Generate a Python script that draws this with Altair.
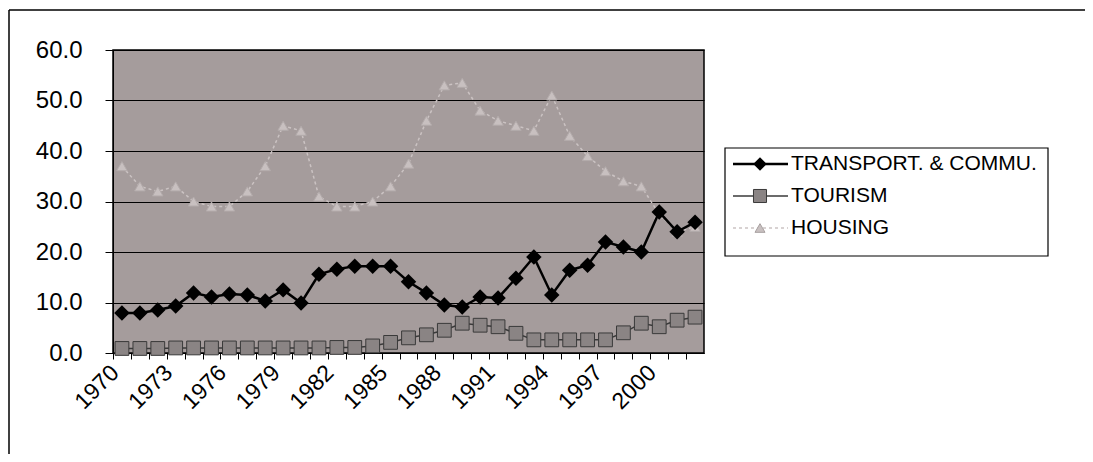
import altair as alt
import pandas as pd

years = list(range(1970, 2003))
transport = [7.9, 7.9, 8.5, 9.3, 11.9, 11.1, 11.7, 11.5, 10.3, 12.5, 9.9, 15.6, 16.6, 17.2, 17.2, 17.2,
             14.1, 11.9, 9.5, 9.1, 11.1, 10.9, 14.8, 19.0, 11.5, 16.4, 17.4, 22.0, 21.0, 20.0, 27.9, 24.0, 25.9]
tourism = [0.9, 0.9, 0.9, 1.0, 1.0, 1.0, 1.0, 1.0, 1.0, 1.0, 1.0, 1.0, 1.1, 1.1, 1.4, 2.1,
           3.0, 3.6, 4.5, 5.9, 5.5, 5.2, 3.9, 2.6, 2.6, 2.6, 2.6, 2.6, 4.0, 5.9, 5.2, 6.5, 7.1]
housing = [37, 33, 32, 33, 30, 29, 29, 32, 37, 45, 44, 31, 29, 29, 30, 33, 37.5, 46, 53, 53.5,
           48, 46, 45, 44, 51, 43, 39, 36, 34, 33, 27.5, 24, 25]
series_names = ["TRANSPORT. & COMMU.", "TOURISM", "HOUSING"]
y_ticks = [0, 10, 20, 30, 40, 50, 60]

W, H = 591, 303
STEP = W / len(years)
FONT = "Liberation Sans"

df = pd.DataFrame({"year": years, "transport": transport, "tourism": tourism, "housing": housing})

x_enc = alt.X("year:O", title=None,
              scale=alt.Scale(type="point", padding=0.5),
              axis=alt.Axis(labelAngle=-45, labelAlign="right", labelBaseline="top",
                            labelExpr="(datum.value - 1970) % 3 == 0 ? datum.label : ''",
                            tickOffset=-STEP / 2, labelOffset=STEP / 2 - 15,
                            tickSize=6, tickColor="black", domainColor="black",
                            labelFont=FONT, labelFontSize=23, labelColor="black",
                            labelPadding=2, grid=False))

y_axis = alt.Axis(values=y_ticks, format=".1f", title=None, tickSize=8, tickColor="black",
                  domainColor="black", labelFont=FONT, labelFontSize=24, labelColor="black",
                  labelPadding=23, grid=True, gridColor="black", gridWidth=1, gridOpacity=1)


def y_enc(field):
    return alt.Y(f"{field}:Q", title=None, scale=alt.Scale(domain=[0, 60], nice=False), axis=y_axis)


base = alt.Chart(df)

housing_line = base.mark_line(color="#cbc3c3", strokeWidth=1.5, strokeDash=[3, 3]).encode(
    x=x_enc, y=y_enc("housing"))
housing_pts = base.mark_point(shape="triangle-up", size=110, filled=True, fill="#c8c0c0",
                              stroke="#b3abab", strokeWidth=1, opacity=1).encode(
    x=x_enc, y=y_enc("housing"))

tourism_line = base.mark_line(color="#3a3a3a", strokeWidth=1.5).encode(x=x_enc, y=y_enc("tourism"))
tourism_pts = base.mark_point(shape="square", size=190, filled=True, fill="#8a8484",
                              stroke="#3a3a3a", strokeWidth=1, opacity=1).encode(
    x=x_enc, y=y_enc("tourism"))

transport_line = base.mark_line(color="black", strokeWidth=2.5).encode(x=x_enc, y=y_enc("transport"))
transport_pts = base.mark_point(shape="diamond", size=240, filled=True, color="black", opacity=1).encode(
    x=x_enc, y=y_enc("transport"))

one = alt.Chart(pd.DataFrame({"a": [0]}))

# outer chart frame (top and left)
frame_top = one.mark_rule(color="black", strokeWidth=1.5).encode(
    x=alt.value(-104), x2=alt.value(1000), y=alt.value(-40))
frame_left = one.mark_rule(color="black", strokeWidth=1.5).encode(
    x=alt.value(-104), y=alt.value(-40), y2=alt.value(410))

# legend
LX0, LX1, LY0, LY1 = 612, 935, 98, 206
legend_box = one.mark_rect(fill="white", stroke="black", strokeWidth=1.2).encode(
    x=alt.value(LX0), x2=alt.value(LX1), y=alt.value(LY0), y2=alt.value(LY1))
rows = [114, 146, 178]
legend_layers = [legend_box]
leg_line = [("black", 2.5, None), ("#3a3a3a", 1.5, None), ("#cbc3c3", 1.5, [3, 3])]
for i, name in enumerate(series_names):
    color, sw, dash = leg_line[i]
    kw = {"color": color, "strokeWidth": sw}
    if dash:
        kw["strokeDash"] = dash
    legend_layers.append(one.mark_rule(**kw).encode(
        x=alt.value(620), x2=alt.value(675), y=alt.value(rows[i])))
    legend_layers.append(one.mark_text(align="left", baseline="middle", font=FONT, fontSize=21,
                                       color="black", text=name).encode(
        x=alt.value(678), y=alt.value(rows[i])))
legend_layers.append(one.mark_point(shape="diamond", size=180, filled=True, color="black", opacity=1).encode(
    x=alt.value(647), y=alt.value(rows[0])))
legend_layers.append(one.mark_point(shape="square", size=170, filled=True, fill="#8a8484",
                                    stroke="#3a3a3a", strokeWidth=1, opacity=1).encode(
    x=alt.value(647), y=alt.value(rows[1])))
legend_layers.append(one.mark_point(shape="triangle-up", size=100, filled=True, fill="#c8c0c0",
                                    stroke="#a8a0a0", strokeWidth=1, opacity=1).encode(
    x=alt.value(647), y=alt.value(rows[2])))

chart = alt.layer(
    housing_line, housing_pts, tourism_line, tourism_pts, transport_line, transport_pts,
    frame_top, frame_left, *legend_layers
).properties(
    width=W, height=H,
    autosize=alt.AutoSizeParams(type="none"),
    padding={"left": 105, "top": 42, "right": 1077 - 105 - W, "bottom": 446 - 42 - H},
    background="white",
).configure_view(
    fill="#a59c9c", stroke="black", strokeWidth=1.5
)

chart.save("out.html", embed_options={"renderer": "svg", "actions": False})
